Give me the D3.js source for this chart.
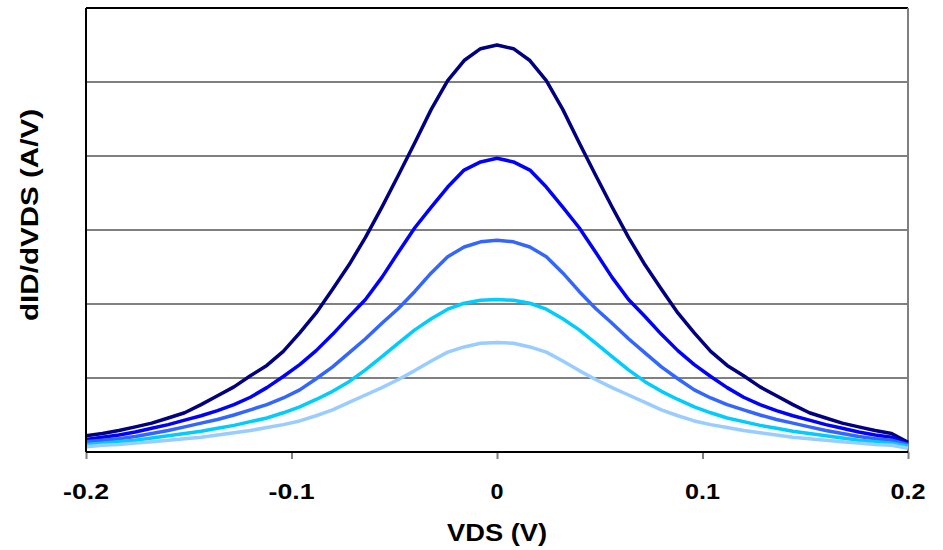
<!DOCTYPE html>
<html>
<head>
<meta charset="utf-8">
<script src="https://cdn.jsdelivr.net/npm/d3@7"></script>
<style>
  body { margin: 0; background: #fff; }
  text { font-family: "Liberation Sans", Arial, sans-serif; font-weight: bold; }
</style>
</head>
<body>
<div id="chart"></div>
<script>
// VDS sample points, -0.2 .. 0.2 V
const vds = d3.range(51).map(i => +(-0.2 + i * 0.008).toFixed(3));

// dID/dVDS (grid units, no labels on the y axis)
const series1 = [0.22, 0.25, 0.29, 0.34, 0.39, 0.46, 0.53, 0.64, 0.76, 0.88, 1.03, 1.17, 1.36, 1.61, 1.88, 2.20, 2.53, 2.90, 3.31, 3.74, 4.18, 4.63, 5.02, 5.29, 5.45,
  5.50,
  5.45, 5.29, 5.02, 4.63, 4.18, 3.74, 3.31, 2.90, 2.53, 2.20, 1.88, 1.61, 1.36, 1.17, 1.03, 0.88, 0.76, 0.64, 0.53, 0.46, 0.39, 0.34, 0.29, 0.25, 0.13];
const series2 = [0.17, 0.20, 0.23, 0.27, 0.32, 0.37, 0.43, 0.49, 0.56, 0.64, 0.74, 0.87, 1.02, 1.18, 1.37, 1.59, 1.83, 2.06, 2.36, 2.70, 3.03, 3.31, 3.58, 3.81, 3.92,
  3.97,
  3.92, 3.81, 3.58, 3.31, 3.03, 2.70, 2.36, 2.06, 1.83, 1.59, 1.37, 1.18, 1.02, 0.87, 0.74, 0.64, 0.56, 0.49, 0.43, 0.37, 0.32, 0.27, 0.23, 0.20, 0.11];
const series3 = [0.14, 0.16, 0.18, 0.21, 0.25, 0.29, 0.34, 0.39, 0.44, 0.50, 0.57, 0.64, 0.73, 0.84, 0.99, 1.15, 1.34, 1.53, 1.74, 1.94, 2.17, 2.42, 2.64, 2.77, 2.84,
  2.86,
  2.84, 2.77, 2.64, 2.42, 2.17, 1.94, 1.74, 1.53, 1.34, 1.15, 0.99, 0.84, 0.73, 0.64, 0.57, 0.50, 0.44, 0.39, 0.34, 0.29, 0.25, 0.21, 0.18, 0.16, 0.10];
const series4 = [0.10, 0.12, 0.14, 0.16, 0.19, 0.22, 0.25, 0.28, 0.32, 0.36, 0.41, 0.46, 0.53, 0.61, 0.71, 0.82, 0.95, 1.11, 1.29, 1.47, 1.65, 1.80, 1.93, 2.01, 2.05,
  2.06,
  2.05, 2.01, 1.93, 1.80, 1.65, 1.47, 1.29, 1.11, 0.95, 0.82, 0.71, 0.61, 0.53, 0.46, 0.41, 0.36, 0.32, 0.28, 0.25, 0.22, 0.19, 0.16, 0.14, 0.12, 0.08];
const series5 = [0.07, 0.09, 0.10, 0.12, 0.14, 0.16, 0.18, 0.20, 0.23, 0.26, 0.29, 0.33, 0.37, 0.42, 0.49, 0.57, 0.67, 0.77, 0.87, 0.98, 1.10, 1.23, 1.35, 1.42, 1.47,
  1.48,
  1.47, 1.42, 1.35, 1.23, 1.10, 0.98, 0.87, 0.77, 0.67, 0.57, 0.49, 0.42, 0.37, 0.33, 0.29, 0.26, 0.23, 0.20, 0.18, 0.16, 0.14, 0.12, 0.10, 0.09, 0.05];

const seriesList = [series1, series2, series3, series4, series5];
const colors = ["#000080", "#0000ff", "#3366ff", "#00ccff", "#99ccff"];
const xTicks = [-0.2, -0.1, 0, 0.1, 0.2];
const xTickLabels = ["-0.2", "-0.1", "0", "0.1", "0.2"];

const width = 943, height = 550;
const margin = { top: 8, right: 35, bottom: 98, left: 86 };

const svg = d3.select("#chart").append("svg")
  .attr("width", width)
  .attr("height", height);

const x = d3.scaleLinear().domain([-0.2, 0.2]).range([margin.left, width - margin.right]);
const y = d3.scaleLinear().domain([0, 6]).range([height - margin.bottom, margin.top]);

// horizontal gridlines
svg.append("g")
  .selectAll("line")
  .data(d3.range(1, 6))
  .enter().append("line")
  .attr("x1", x(-0.2)).attr("x2", x(0.2))
  .attr("y1", d => y(d)).attr("y2", d => y(d))
  .attr("stroke", "#808080")
  .attr("stroke-width", 2);

// plot frame: top black, right gray
svg.append("line")
  .attr("x1", x(-0.2)).attr("x2", x(0.2))
  .attr("y1", y(6)).attr("y2", y(6))
  .attr("stroke", "#000").attr("stroke-width", 2);
svg.append("line")
  .attr("x1", x(0.2)).attr("x2", x(0.2))
  .attr("y1", y(6)).attr("y2", y(0))
  .attr("stroke", "#808080").attr("stroke-width", 2);

// curves
const line = d3.line()
  .x((d, i) => x(vds[i]))
  .y(d => y(d));

svg.append("g")
  .selectAll("path")
  .data(seriesList)
  .enter().append("path")
  .attr("d", d => line(d))
  .attr("fill", "none")
  .attr("stroke", (d, i) => colors[i])
  .attr("stroke-width", 3.5)
  .attr("stroke-linejoin", "round");

// x axis ticks (labels are drawn separately, with plain hyphens)
const xAxis = svg.append("g")
  .attr("transform", `translate(0,${y(0)})`)
  .call(d3.axisBottom(x).tickValues(xTicks).tickSize(7).tickFormat(""));
xAxis.select(".domain").remove();
xAxis.selectAll(".tick line").attr("stroke", "#808080").attr("stroke-width", 2);

// label text is a little wider than the font gives, so stretch it
const labelWidth = s => s.length === 1 ? 13 : s.length === 3 ? 35 : 46;

svg.append("g")
  .selectAll("text")
  .data(xTicks)
  .enter().append("text")
  .attr("x", d => x(d))
  .attr("y", 499)
  .attr("text-anchor", "middle")
  .style("font-size", "22px")
  .attr("textLength", (d, i) => labelWidth(xTickLabels[i]))
  .attr("lengthAdjust", "spacingAndGlyphs")
  .text((d, i) => xTickLabels[i]);

// axis lines
svg.append("line")
  .attr("x1", x(-0.2)).attr("x2", x(0.2))
  .attr("y1", y(0)).attr("y2", y(0))
  .attr("stroke", "#000").attr("stroke-width", 2);
svg.append("line")
  .attr("x1", x(-0.2)).attr("x2", x(-0.2))
  .attr("y1", y(6)).attr("y2", y(0))
  .attr("stroke", "#000").attr("stroke-width", 2);

// titles
svg.append("text")
  .attr("x", x(0))
  .attr("y", 541)
  .attr("text-anchor", "middle")
  .style("font-size", "23px")
  .attr("textLength", 100)
  .attr("lengthAdjust", "spacingAndGlyphs")
  .text("VDS (V)");

svg.append("text")
  .attr("transform", "translate(38,215) rotate(-90)")
  .attr("text-anchor", "middle")
  .style("font-size", "23px")
  .attr("textLength", 212)
  .attr("lengthAdjust", "spacingAndGlyphs")
  .text("dID/dVDS (A/V)");
</script>
</body>
</html>
